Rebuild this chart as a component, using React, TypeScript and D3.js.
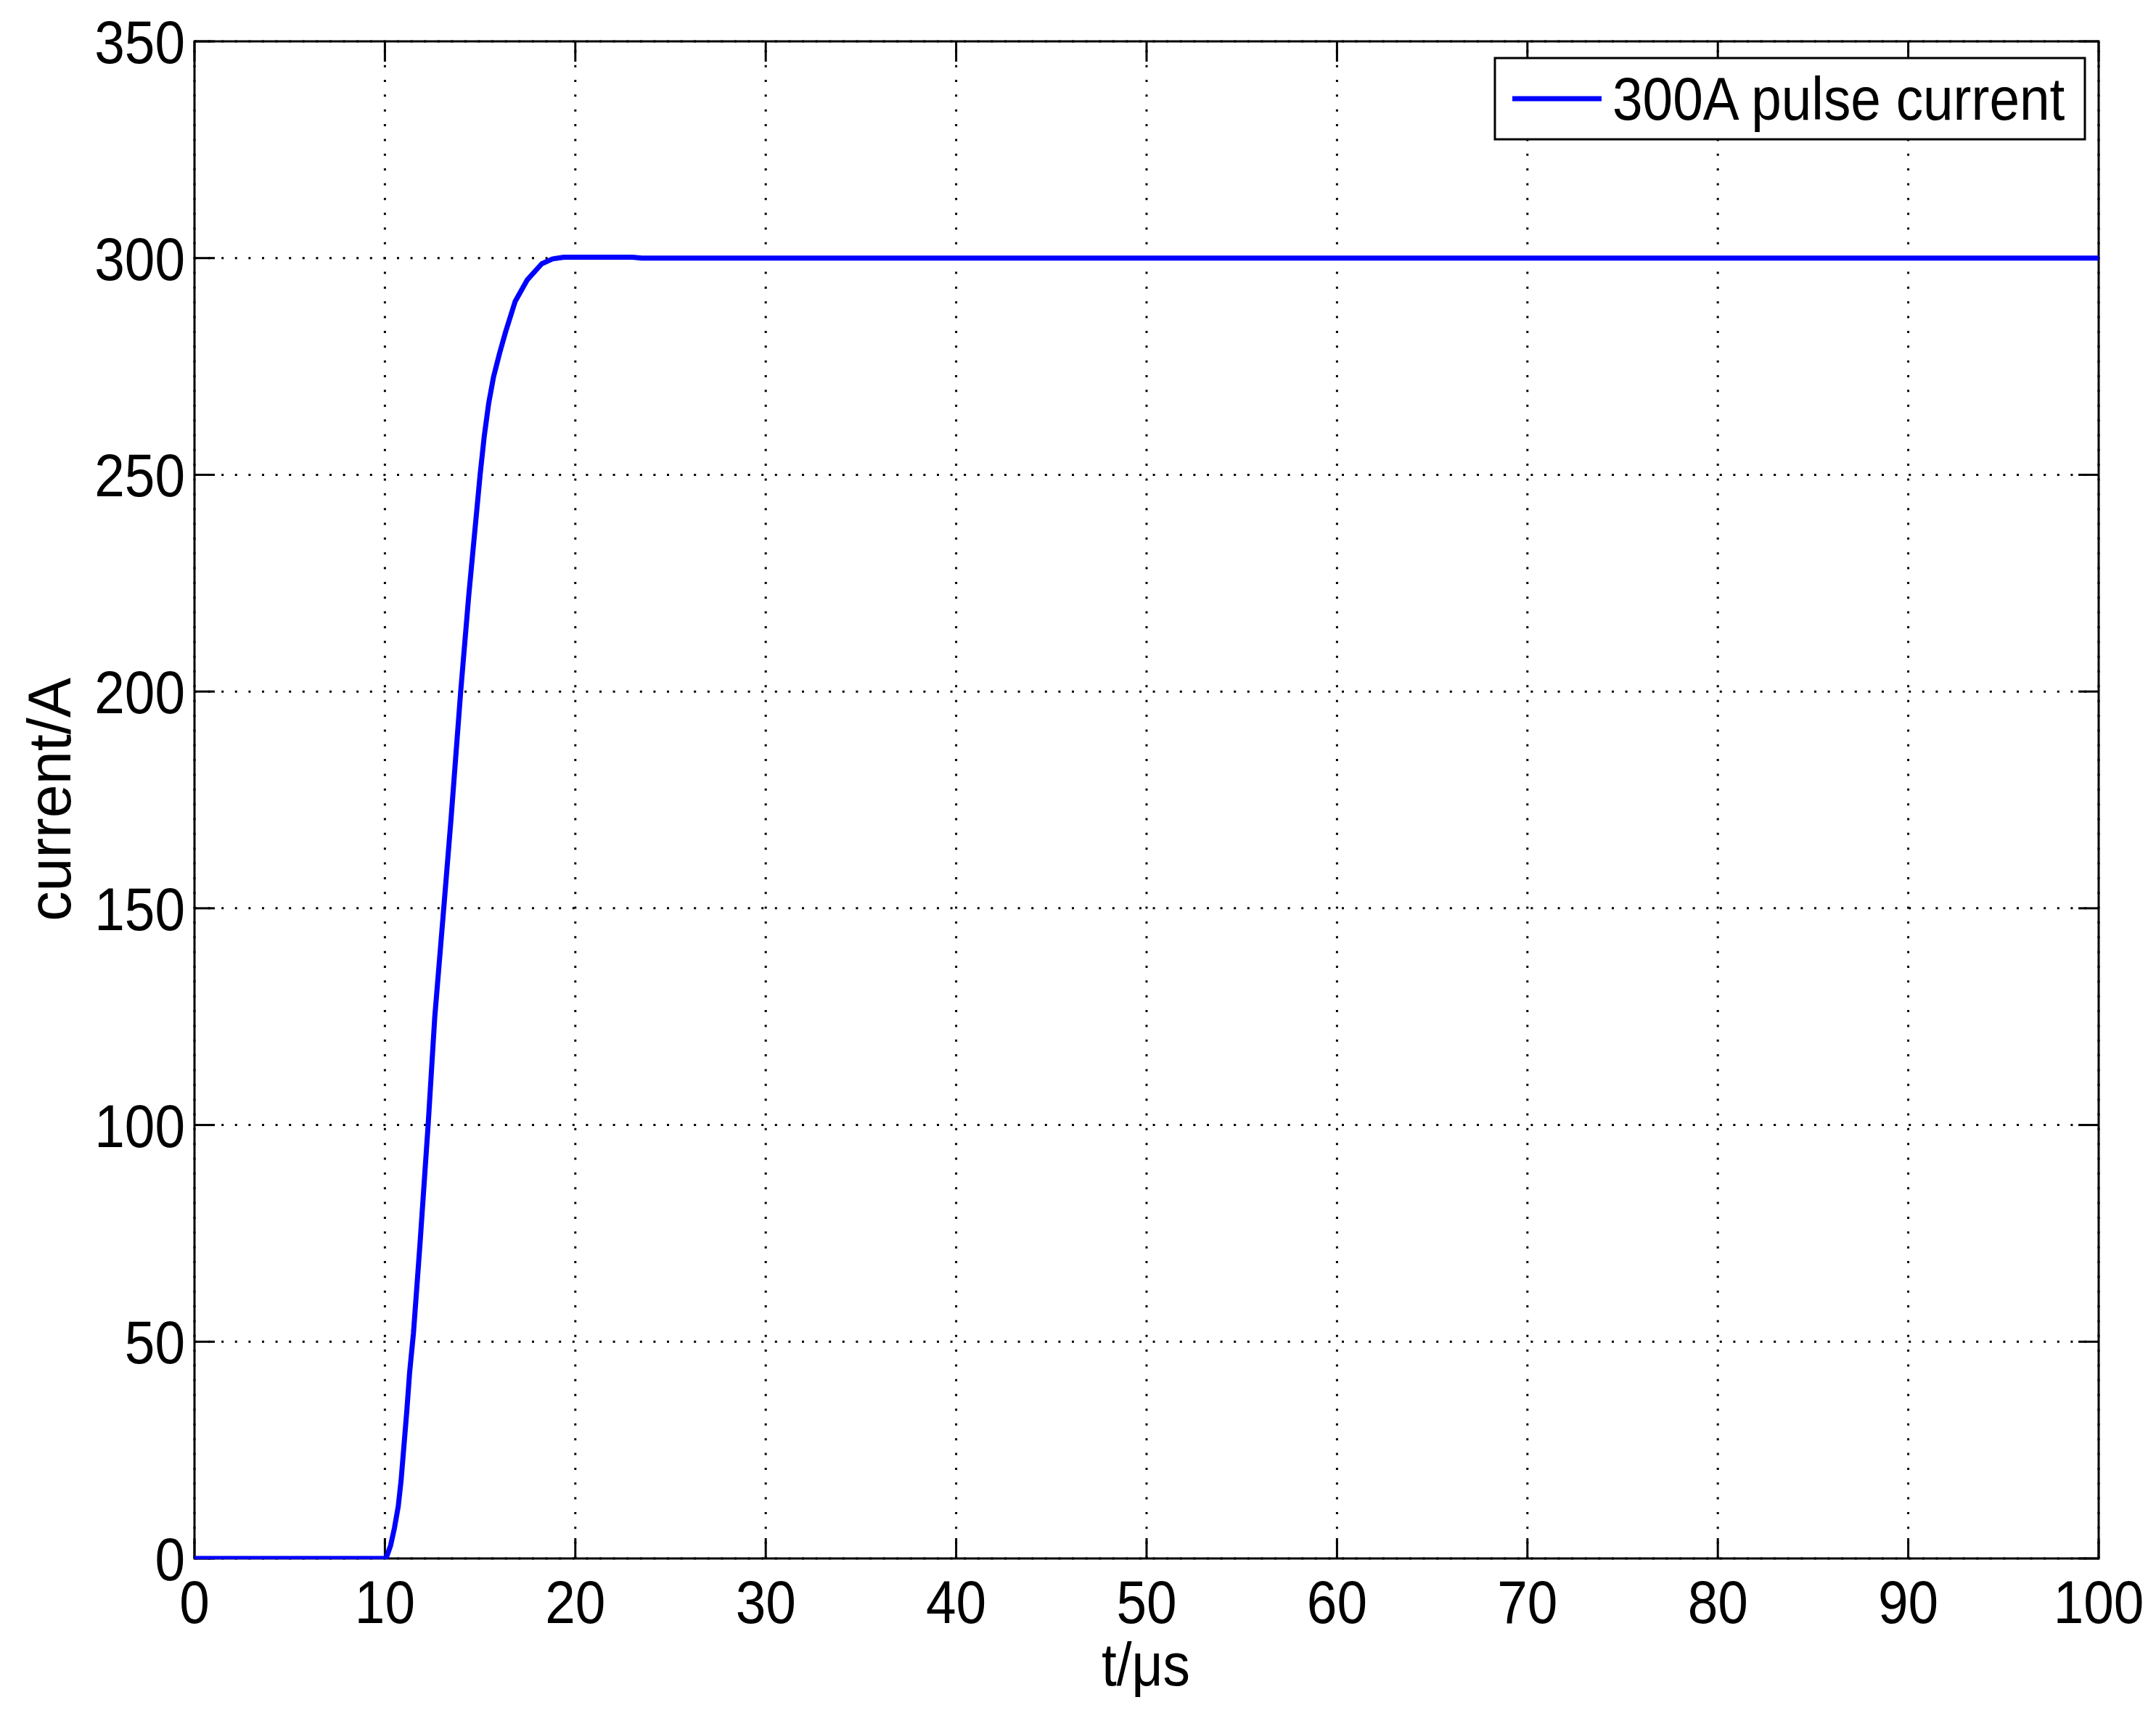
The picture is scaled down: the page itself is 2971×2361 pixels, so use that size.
import React from "react";
import * as d3 from "d3";

const timeUs = [0, 10, 10.1, 10.3, 10.5, 10.7, 10.85, 11.0, 11.15, 11.3, 11.5, 11.85, 12.27, 12.62, 12.94, 13.09, 13.48, 13.98, 14.4, 15.0, 15.22, 15.45, 15.7, 16.02, 16.34, 16.84, 17.48, 18.24, 18.8, 19.4, 23.0, 23.5, 100];
const currentA = [0, 0, 0.5, 3, 7, 12, 18, 26, 34, 43, 52, 73, 100, 125, 142, 150, 171, 200, 222, 250, 259, 266.5, 272.5, 278, 283, 290, 295, 298.7, 299.8, 300.2, 300.2, 300, 300];
const xTicks = [0, 10, 20, 30, 40, 50, 60, 70, 80, 90, 100];
const yTicks = [0, 50, 100, 150, 200, 250, 300, 350];
const seriesName = "300A pulse current";
const xLabel = "t/\u03bcs";
const yLabel = "current/A";

const W = 2971;
const H = 2361;
const L = 268, R = 2892, T = 57, B = 2148;
const FONT = "'Liberation Sans', Arial, Helvetica, sans-serif";
const FS = 84;
const SX = 0.89;
const TICK = 28;

export default function App() {
  const x = d3.scaleLinear().domain([0, 100]).range([L, R]);
  const y = d3.scaleLinear().domain([0, 350]).range([B, T]);
  const pts = timeUs.map((t, i) => [t, currentA[i]] as [number, number]);
  const line = d3.line<[number, number]>().x(d => x(d[0])).y(d => y(d[1]));

  const txt = (key: string, tx: number, ty: number, s: string, anchor: string, rot = 0, sx = SX) => (
    <text key={key} transform={`translate(${tx},${ty}) rotate(${rot}) scale(${sx},1)`} textAnchor={anchor}
      fontFamily={FONT} fontSize={FS} fill="#000">{s}</text>
  );

  return (
    <svg width={W} height={H} style={{ position: "absolute", left: 0, top: 0, display: "block", background: "#fff" }}>
      <rect x={0} y={0} width={W} height={H} fill="#fff" />
      <defs>
        <clipPath id="plotclip">
          <rect x={L} y={T} width={R - L} height={B - T + 1} />
        </clipPath>
      </defs>
      {/* grid */}
      {xTicks.map(t => (
        <line key={"gx" + t} x1={x(t)} x2={x(t)} y1={B} y2={T} stroke="#000" strokeWidth={3} strokeDasharray="3 17.35" />
      ))}
      {yTicks.map(t => (
        <line key={"gy" + t} x1={L} x2={R} y1={y(t)} y2={y(t)} stroke="#000" strokeWidth={3} strokeDasharray="3 15.6" />
      ))}
      {/* ticks */}
      {xTicks.map(t => (
        <g key={"tx" + t}>
          <line x1={x(t)} x2={x(t)} y1={B} y2={B - TICK} stroke="#000" strokeWidth={3} />
          <line x1={x(t)} x2={x(t)} y1={T} y2={T + TICK} stroke="#000" strokeWidth={3} />
        </g>
      ))}
      {yTicks.map(t => (
        <g key={"ty" + t}>
          <line x1={L} x2={L + TICK} y1={y(t)} y2={y(t)} stroke="#000" strokeWidth={3} />
          <line x1={R} x2={R - TICK} y1={y(t)} y2={y(t)} stroke="#000" strokeWidth={3} />
        </g>
      ))}
      <rect x={L} y={T} width={R - L} height={B - T} fill="none" stroke="#000" strokeWidth={3} />
      {/* data */}
      <path d={line(pts) || ""} fill="none" stroke="#0000ff" strokeWidth={7} strokeLinejoin="round" clipPath="url(#plotclip)" />
      {/* tick labels */}
      {xTicks.map(t => txt("lx" + t, x(t), 2237, String(t), "middle"))}
      {yTicks.map(t => txt("ly" + t, 255, y(t) + 30, String(t), "end"))}
      {txt("xl", 1579, 2323, xLabel, "middle")}
      {txt("yl", 97, 1102, yLabel, "middle", -90, 0.985)}
      {/* legend */}
      <rect x={2060} y={80} width={813} height={112} fill="#fff" stroke="#000" strokeWidth={3} />
      <line x1={2084} x2={2207} y1={136} y2={136} stroke="#0000ff" strokeWidth={7} />
      {txt("lg", 2222, 165, seriesName, "start")}
    </svg>
  );
}
